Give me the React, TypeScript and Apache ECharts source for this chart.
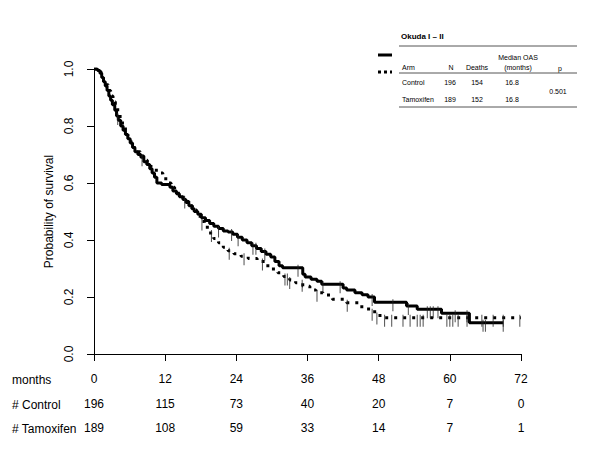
import React, { useEffect, useRef } from "react";
import * as echarts from "echarts";

const FONT = "'Liberation Sans', Arial, Helvetica, sans-serif";

const months = [0, 12, 24, 36, 48, 60, 72];
const controlAtRisk = [196, 115, 73, 40, 20, 7, 0];
const tamoxAtRisk = [189, 108, 59, 33, 14, 7, 1];
const yTicks = [0, 0.2, 0.4, 0.6, 0.8, 1.0];

// Control arm (solid) Kaplan-Meier steps: time (months), survival after event
const controlTime = [0, 0.6, 1.0, 1.3, 1.6, 1.9, 2.2, 2.5, 2.8, 3.1, 3.5, 3.8, 4.1, 4.5, 4.9, 5.3, 5.7, 6.1, 6.5, 6.9, 7.4, 7.9, 8.4, 8.9, 9.4, 9.8, 10.2, 10.6, 11.4, 12.8, 13.3, 13.9, 14.4, 15.0, 15.5, 16.0, 16.5, 16.9, 17.5, 18.1, 18.8, 19.5, 20.2, 21.0, 21.8, 22.6, 23.4, 24.2, 25.0, 25.8, 26.6, 27.4, 28.2, 29.0, 29.8, 30.5, 31.2, 31.8, 35.2, 35.6, 36.6, 37.6, 38.4, 42.0, 42.6, 44.0, 45.2, 46.2, 47.3, 52.7, 54.5, 58.6, 63.3, 69.0];
const controlSurv = [1.0, 0.995, 0.985, 0.97, 0.955, 0.94, 0.925, 0.905, 0.89, 0.875, 0.855, 0.835, 0.82, 0.8, 0.785, 0.77, 0.755, 0.74, 0.725, 0.71, 0.7, 0.69, 0.675, 0.665, 0.65, 0.635, 0.62, 0.6, 0.595, 0.585, 0.572, 0.562, 0.552, 0.542, 0.532, 0.52, 0.51, 0.5, 0.49, 0.478, 0.468, 0.458, 0.448, 0.44, 0.432, 0.428, 0.42, 0.41, 0.4, 0.39, 0.38, 0.37, 0.36, 0.35, 0.34, 0.325, 0.31, 0.303, 0.28, 0.27, 0.262, 0.255, 0.245, 0.232, 0.225, 0.215, 0.208, 0.2, 0.182, 0.168, 0.157, 0.143, 0.11, 0.11];

// Tamoxifen arm (dotted)
const tamoxTime = [0, 0.8, 1.2, 1.6, 2.0, 2.4, 2.8, 3.2, 3.6, 4.0, 4.4, 4.8, 5.3, 5.7, 6.2, 6.7, 7.2, 7.8, 8.4, 9.0, 9.6, 10.2, 11.0, 11.6, 12.4, 13.0, 13.6, 14.2, 14.8, 15.4, 16.0, 16.6, 17.3, 17.9, 18.6, 19.4, 20.2, 21.0, 21.8, 22.6, 23.6, 24.8, 26.0, 27.5, 28.8, 30.0, 31.0, 32.0, 33.0, 34.0, 35.2, 36.4, 37.4, 38.6, 40.2, 42.6, 44.8, 46.3, 47.6, 48.8, 72.0];
const tamoxSurv = [1.0, 0.99, 0.975, 0.96, 0.945, 0.925, 0.905, 0.885, 0.865, 0.845, 0.825, 0.805, 0.785, 0.765, 0.745, 0.725, 0.71, 0.695, 0.68, 0.67, 0.655, 0.645, 0.635, 0.615, 0.6, 0.585, 0.57, 0.56, 0.55, 0.535, 0.52, 0.505, 0.485, 0.465, 0.445, 0.425, 0.405, 0.39, 0.375, 0.362, 0.352, 0.343, 0.335, 0.325, 0.31, 0.298, 0.285, 0.272, 0.26, 0.25, 0.238, 0.225, 0.215, 0.207, 0.192, 0.18, 0.166, 0.148, 0.135, 0.127, 0.125];

// Censoring times
const controlCensor = [4.0, 8.1, 15.3, 21.0, 23.2, 24.3, 26.8, 27.3, 28.8, 34.4, 38.6, 41.5, 46.9, 50.4, 53.0, 56.2, 56.7, 57.2, 58.0, 60.9, 62.9, 65.6, 66.0, 69.0];
const tamoxCensor = [18.2, 19.8, 22.8, 25.3, 28.4, 32.2, 32.6, 33.0, 35.1, 37.6, 42.7, 46.9, 47.7, 49.0, 50.2, 52.1, 53.3, 54.5, 55.0, 55.5, 59.5, 60.0, 60.5, 61.4, 62.9, 65.4, 67.3, 69.0, 71.8];

// Table content
const tableTitle = "Okuda I \u2013 II";
const tableArms = ["Control", "Tamoxifen"];
const tableN = [196, 189];
const tableDeaths = [154, 152];
const tableMedian = ["16.8", "16.8"];
const tableP = "0.501";

function survAt(times: number[], surv: number[], t: number) {
  let s = surv[0];
  for (let i = 0; i < times.length; i++) {
    if (times[i] <= t) s = surv[i];
  }
  return s;
}

export default function App() {
  const ref = useRef<HTMLDivElement>(null);
  useEffect(() => {
    if (!ref.current) return;
    const chart = echarts.init(ref.current, undefined, { renderer: "svg" });
    const txt = (text: string, x: number, y: number, align: string, extra: any = {}) => ({
      type: "text",
      x,
      y,
      style: {
        text,
        font: extra.font || `7px ${FONT}`,
        fill: "#000",
        align,
        verticalAlign: "middle",
      },
    });
    const hline = (y: number, x1: number, x2: number, extra: any = {}) => ({
      type: "line",
      shape: { x1, y1: y, x2, y2: y },
      style: { stroke: extra.stroke || "#555", lineWidth: extra.lineWidth || 1, lineDash: extra.lineDash },
    });
    const rowLabel = (text: string, y: number) => ({
      type: "text",
      x: 12,
      y,
      style: { text, font: `12px ${FONT}`, fill: "#000", align: "left", verticalAlign: "middle" },
    });

    const baseX = {
      type: "value",
      min: 0,
      max: 72,
      interval: 12,
      position: "bottom",
      gridIndex: 0,
      splitLine: { show: false },
    };
    const labelStyle = { fontSize: 12, color: "#000", fontFamily: FONT, margin: 19 };

    chart.setOption({
      animation: false,
      backgroundColor: "#fff",
      grid: { left: 94, right: 79, top: 69, bottom: 96, containLabel: false },
      xAxis: [
        {
          ...baseX,
          axisLine: { show: true, onZero: false, lineStyle: { color: "#000", width: 1 } },
          axisTick: { show: true, length: 7, lineStyle: { color: "#000" } },
          axisLabel: { ...labelStyle, formatter: (v: number) => String(months[months.indexOf(v)]) },
        },
        {
          ...baseX,
          offset: 25,
          axisLine: { show: false, onZero: false },
          axisTick: { show: false },
          axisLabel: { ...labelStyle, formatter: (v: number) => String(controlAtRisk[months.indexOf(v)]) },
        },
        {
          ...baseX,
          offset: 49,
          axisLine: { show: false, onZero: false },
          axisTick: { show: false },
          axisLabel: { ...labelStyle, formatter: (v: number) => String(tamoxAtRisk[months.indexOf(v)]) },
        },
      ],
      yAxis: {
        type: "value",
        min: 0,
        max: 1,
        interval: 0.2,
        name: "Probability of survival",
        nameLocation: "middle",
        nameRotate: 90,
        nameGap: 33,
        nameTextStyle: { fontSize: 12, color: "#000", fontFamily: FONT },
        axisLine: { show: true, lineStyle: { color: "#000", width: 1 } },
        axisTick: { show: true, length: 7, lineStyle: { color: "#000" } },
        axisLabel: {
          rotate: 90,
          fontSize: 12,
          color: "#000",
          fontFamily: FONT,
          margin: 19,
          formatter: (v: number) => (yTicks.some((t) => Math.abs(t - v) < 1e-9) ? v.toFixed(1) : ""),
        },
        splitLine: { show: false },
      },
      series: [
        {
          name: "Control",
          type: "line",
          step: "end",
          symbol: "none",
          data: controlTime.map((t, i) => [t, controlSurv[i]]),
          lineStyle: { color: "#000", width: 3 },
          z: 3,
        },
        {
          name: "Tamoxifen",
          type: "line",
          step: "end",
          symbol: "none",
          data: tamoxTime.map((t, i) => [t, tamoxSurv[i]]),
          lineStyle: { color: "#000", width: 3, type: [3, 6] },
          z: 3,
        },
        {
          name: "Control censored",
          type: "scatter",
          symbol: "rect",
          symbolSize: [1, 12],
          symbolOffset: [0, 3],
          itemStyle: { color: "#222" },
          data: controlCensor.map((t) => [t, survAt(controlTime, controlSurv, t)]),
          z: 4,
        },
        {
          name: "Tamoxifen censored",
          type: "scatter",
          symbol: "rect",
          symbolSize: [1, 12],
          symbolOffset: [0, 3],
          itemStyle: { color: "#222" },
          data: tamoxCensor.map((t) => [t, survAt(tamoxTime, tamoxSurv, t)]),
          z: 4,
        },
      ],
      graphic: [
        rowLabel("months", 380),
        rowLabel("# Control", 405),
        rowLabel("# Tamoxifen", 429),
        // legend line samples
        hline(55, 378, 392, { stroke: "#000", lineWidth: 3 }),
        hline(72, 378, 392, { stroke: "#000", lineWidth: 3, lineDash: [3, 3] }),
        // table
        txt(tableTitle, 401, 36, "left", { font: `bold 8px ${FONT}` }),
        hline(46, 399, 577),
        txt("Median OAS", 518, 57, "center"),
        txt("Arm", 402, 67, "left"),
        txt("N", 451, 67, "center"),
        txt("Deaths", 477, 67, "center"),
        txt("(months)", 518, 67, "center"),
        txt("p", 560, 68, "center"),
        hline(73, 399, 577),
        txt(tableArms[0], 402, 82, "left"),
        txt(String(tableN[0]), 450, 82, "center"),
        txt(String(tableDeaths[0]), 477, 82, "center"),
        txt(tableMedian[0], 512, 82, "center"),
        txt(tableP, 558, 91, "center"),
        txt(tableArms[1], 402, 99, "left"),
        txt(String(tableN[1]), 450, 99, "center"),
        txt(String(tableDeaths[1]), 477, 99, "center"),
        txt(tableMedian[1], 512, 99, "center"),
        hline(107, 399, 577),
      ],
    });
    return () => chart.dispose();
  }, []);
  return (
    <div
      ref={ref}
      style={{ position: "fixed", left: 0, top: 0, width: 600, height: 450, background: "#fff" }}
    />
  );
}
